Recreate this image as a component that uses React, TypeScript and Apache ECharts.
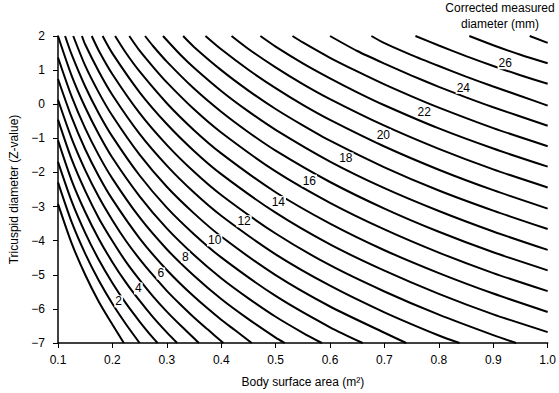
import React, { useEffect, useRef } from "react";
import * as echarts from "echarts";

const FONT = '"Liberation Sans", Arial, Helvetica, sans-serif';

// Curves: corrected measured diameter (mm) -> points [BSA (m²), Z-value]
const curve1 = [[0.1, -2.92], [0.125, -4.07], [0.15, -5.0], [0.175, -5.79], [0.2, -6.46], [0.221, -7]];
const curve2 = [[0.1, -2.29], [0.125, -3.45], [0.15, -4.38], [0.175, -5.17], [0.2, -5.85], [0.225, -6.45], [0.25, -7]];
const curve3 = [[0.1, -1.69], [0.125, -2.84], [0.15, -3.77], [0.175, -4.56], [0.2, -5.24], [0.225, -5.84], [0.25, -6.37], [0.275, -6.86], [0.283, -7]];
const curve4 = [[0.1, -1.06], [0.125, -2.23], [0.15, -3.16], [0.175, -3.95], [0.2, -4.63], [0.225, -5.23], [0.25, -5.76], [0.275, -6.25], [0.3, -6.69], [0.319, -7]];
const curve5 = [[0.1, -0.45], [0.125, -1.61], [0.15, -2.54], [0.175, -3.34], [0.2, -4.01], [0.225, -4.62], [0.25, -5.15], [0.275, -5.64], [0.3, -6.08], [0.325, -6.48], [0.35, -6.86], [0.359, -7]];
const curve6 = [[0.1, 0.13], [0.125, -1.0], [0.15, -1.93], [0.175, -2.72], [0.2, -3.4], [0.225, -4.01], [0.25, -4.54], [0.275, -5.02], [0.3, -5.47], [0.325, -5.87], [0.35, -6.25], [0.375, -6.6], [0.404, -7]];
const curve7 = [[0.1, 0.74], [0.125, -0.38], [0.15, -1.32], [0.175, -2.11], [0.2, -2.79], [0.25, -3.93], [0.3, -4.86], [0.35, -5.64], [0.4, -6.32], [0.425, -6.62], [0.456, -7]];
const curve8 = [[0.1, 1.37], [0.125, 0.23], [0.15, -0.71], [0.175, -1.5], [0.2, -2.18], [0.25, -3.32], [0.3, -4.25], [0.35, -5.03], [0.4, -5.71], [0.45, -6.3], [0.5, -6.84], [0.517, -7]];
const curve9 = [[0.1, 2], [0.125, 0.84], [0.15, -0.09], [0.175, -0.88], [0.2, -1.57], [0.25, -2.7], [0.3, -3.64], [0.35, -4.42], [0.4, -5.1], [0.45, -5.69], [0.5, -6.23], [0.55, -6.7], [0.585, -7]];
const curve10 = [[0.113, 2], [0.125, 1.46], [0.15, 0.52], [0.175, -0.27], [0.2, -0.95], [0.25, -2.09], [0.3, -3.03], [0.35, -3.81], [0.4, -4.49], [0.5, -5.62], [0.6, -6.54], [0.66, -7]];
const curve11 = [[0.128, 2], [0.15, 1.13], [0.175, 0.34], [0.2, -0.34], [0.25, -1.48], [0.3, -2.42], [0.35, -3.2], [0.4, -3.88], [0.5, -5.01], [0.6, -5.93], [0.7, -6.7], [0.74, -7]];
const curve12 = [[0.144, 2], [0.15, 1.75], [0.175, 0.96], [0.2, 0.27], [0.25, -0.87], [0.3, -1.8], [0.35, -2.59], [0.4, -3.27], [0.5, -4.4], [0.6, -5.32], [0.7, -6.1], [0.8, -6.78], [0.838, -7]];
const curve13 = [[0.162, 2], [0.175, 1.57], [0.2, 0.88], [0.25, -0.26], [0.3, -1.19], [0.35, -1.98], [0.4, -2.66], [0.5, -3.79], [0.6, -4.72], [0.7, -5.49], [0.8, -6.17], [0.9, -6.77], [0.942, -7]];
const curve14 = [[0.182, 2], [0.2, 1.49], [0.25, 0.35], [0.3, -0.58], [0.35, -1.37], [0.4, -2.05], [0.5, -3.18], [0.6, -4.11], [0.7, -4.88], [0.8, -5.56], [0.9, -6.16], [1.0, -6.68]];
const curve15 = [[0.205, 2], [0.225, 1.5], [0.25, 0.96], [0.3, 0.03], [0.35, -0.76], [0.4, -1.44], [0.5, -2.58], [0.6, -3.5], [0.7, -4.28], [0.8, -4.95], [0.9, -5.55], [1.0, -6.09]];
const curve16 = [[0.231, 2], [0.25, 1.57], [0.275, 1.09], [0.3, 0.64], [0.35, -0.15], [0.4, -0.83], [0.5, -1.97], [0.6, -2.89], [0.7, -3.67], [0.8, -4.35], [0.9, -4.95], [1.0, -5.48]];
const curve17 = [[0.26, 2], [0.275, 1.7], [0.3, 1.25], [0.35, 0.46], [0.4, -0.22], [0.45, -0.82], [0.5, -1.36], [0.6, -2.28], [0.7, -3.06], [0.8, -3.74], [0.9, -4.34], [1.0, -4.87]];
const curve18 = [[0.293, 2], [0.325, 1.45], [0.35, 1.07], [0.4, 0.39], [0.45, -0.21], [0.5, -0.75], [0.6, -1.68], [0.7, -2.46], [0.8, -3.13], [0.9, -3.73], [1.0, -4.27]];
const curve19 = [[0.33, 2], [0.35, 1.68], [0.4, 1.0], [0.45, 0.4], [0.5, -0.14], [0.55, -0.62], [0.6, -1.07], [0.7, -1.85], [0.8, -2.53], [0.9, -3.12], [1.0, -3.66]];
const curve20 = [[0.371, 2], [0.4, 1.61], [0.45, 1.01], [0.5, 0.47], [0.55, -0.02], [0.6, -0.46], [0.7, -1.24], [0.8, -1.92], [0.9, -2.52], [1.0, -3.06]];
const curve21 = [[0.419, 2], [0.45, 1.62], [0.5, 1.08], [0.55, 0.59], [0.6, 0.15], [0.7, -0.63], [0.8, -1.31], [0.9, -1.91], [1.0, -2.44]];
const curve22 = [[0.472, 2], [0.5, 1.69], [0.55, 1.2], [0.6, 0.76], [0.65, 0.35], [0.7, -0.03], [0.8, -0.71], [0.9, -1.3], [1.0, -1.83]];
const curve23 = [[0.531, 2], [0.55, 1.81], [0.6, 1.36], [0.65, 0.96], [0.7, 0.58], [0.75, 0.23], [0.8, -0.1], [0.9, -0.7], [1.0, -1.23]];
const curve24 = [[0.6, 2], [0.65, 1.56], [0.7, 1.19], [0.75, 0.84], [0.8, 0.51], [0.85, 0.2], [0.9, -0.09], [1.0, -0.63]];
const curve25 = [[0.676, 2], [0.7, 1.79], [0.75, 1.44], [0.8, 1.12], [0.85, 0.81], [0.9, 0.52], [0.95, 0.24], [1.0, -0.04]];
const curve26 = [[0.757, 2], [0.8, 1.72], [0.85, 1.41], [0.9, 1.12], [0.95, 0.85], [1.0, 0.6]];
const curve27 = [[0.856, 2], [0.9, 1.73], [0.95, 1.45], [1.0, 1.2]];
const curve28 = [[0.967, 2], [1.0, 1.8]];

const curves = [
  curve1, curve2, curve3, curve4, curve5, curve6, curve7, curve8, curve9, curve10,
  curve11, curve12, curve13, curve14, curve15, curve16, curve17, curve18, curve19, curve20,
  curve21, curve22, curve23, curve24, curve25, curve26, curve27, curve28,
];

// Curve labels (text, BSA, Z)
const labelTexts = ["2", "4", "6", "8", "10", "12", "14", "16", "18", "20", "22", "24", "26"];
const labelBsa = [0.2116, 0.2476, 0.289, 0.334, 0.388, 0.442, 0.505, 0.562, 0.629, 0.698, 0.773, 0.845, 0.922];
const labelZ = [-5.78, -5.4, -4.96, -4.48, -3.99, -3.43, -2.87, -2.24, -1.59, -0.91, -0.23, 0.48, 1.2];

const xAxisTitle = "Body surface area (m²)";
const yAxisTitle = "Tricuspid diameter (Z-value)";
const legendTitle = "Corrected measured\ndiameter (mm)";

export default function App() {
  const ref = useRef<HTMLDivElement>(null);

  useEffect(() => {
    document.documentElement.style.margin = "0";
    document.body.style.margin = "0";
    if (!ref.current) return;
    const chart = echarts.init(ref.current, undefined, { renderer: "svg" });

    const lineSeries = curves.map((pts, i) => ({
      type: "line",
      name: `${i + 1} mm`,
      data: pts,
      showSymbol: false,
      symbol: "none",
      smooth: 0.25,
      clip: true,
      silent: true,
      z: 2,
      lineStyle: { color: "#000", width: 2 },
    }));

    const labelSeries = {
      type: "scatter",
      silent: true,
      z: 10,
      symbolSize: 1,
      itemStyle: { color: "#fff" },
      label: {
        show: true,
        position: "inside",
        formatter: (p: any) => p.name,
        color: "#000",
        opacity: 1,
        fontSize: 12,
        fontFamily: FONT,
        textBorderWidth: 0,
        textBorderColor: "transparent",
        backgroundColor: "#fff",
        padding: [0, 1],
      },
      data: labelTexts.map((t, i) => ({ name: t, value: [labelBsa[i], labelZ[i]] })),
    };

    chart.setOption({
      animation: false,
      grid: { left: 50, right: 9, top: 36, bottom: 48, containLabel: false },
      xAxis: {
        type: "value",
        min: 0.1,
        max: 1.0,
        interval: 0.1,
        splitLine: { show: false },
        axisLine: { show: true, onZero: false, lineStyle: { color: "#000", width: 1.5 } },
        axisTick: { show: true, length: 5, lineStyle: { color: "#000", width: 1 } },
        axisLabel: {
          color: "#000",
          fontSize: 12,
          fontFamily: FONT,
          margin: 11,
          formatter: (v: number) => v.toFixed(1),
        },
        name: xAxisTitle,
        nameLocation: "middle",
        nameGap: 33,
        nameTextStyle: { color: "#000", fontSize: 12, fontFamily: FONT },
      },
      yAxis: {
        type: "value",
        min: -7,
        max: 2,
        interval: 1,
        splitLine: { show: false },
        axisLine: { show: true, onZero: false, lineStyle: { color: "#000", width: 1.5 } },
        axisTick: { show: true, length: 5, lineStyle: { color: "#000", width: 1 } },
        axisLabel: {
          color: "#000",
          fontSize: 12,
          fontFamily: FONT,
          margin: 13,
          formatter: (v: number) => (v < 0 ? "\u2212" + Math.abs(v) : String(v)),
        },
        name: yAxisTitle,
        nameLocation: "middle",
        nameGap: 38,
        nameRotate: 90,
        nameTextStyle: { color: "#000", fontSize: 12, fontFamily: FONT },
      },
      graphic: [
        {
          type: "text",
          x: 500,
          y: 0,
          silent: true,
          style: {
            text: legendTitle,
            textAlign: "center",
            textVerticalAlign: "top",
            fontSize: 12,
            fontFamily: FONT,
            lineHeight: 16,
            fill: "#000",
          },
        },
      ],
      series: [...lineSeries, labelSeries],
    });

    return () => chart.dispose();
  }, []);

  return (
    <div
      ref={ref}
      style={{ position: "absolute", left: 0, top: 0, width: 559, height: 393 }}
    />
  );
}
